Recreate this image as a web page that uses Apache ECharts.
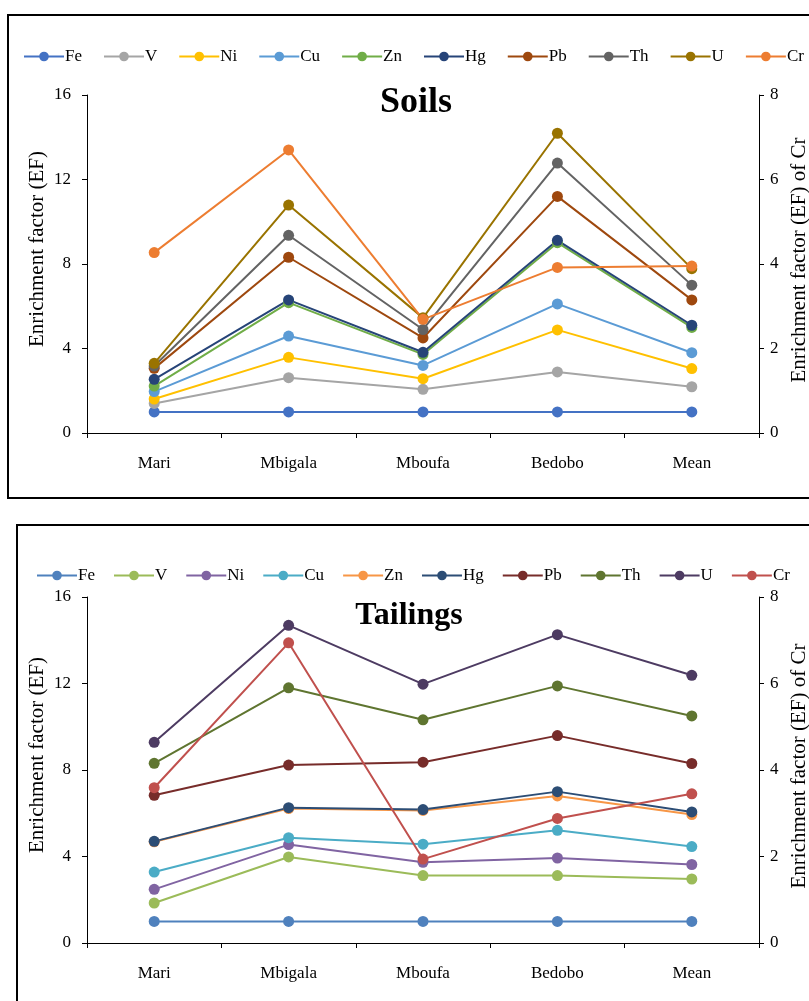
<!DOCTYPE html>
<html>
<head>
<meta charset="utf-8">
<script src="https://cdn.jsdelivr.net/npm/echarts@6/dist/echarts.min.js"></script>
<style>
  html, body { margin: 0; padding: 0; background: #fff; }
  #main { width: 809px; height: 1001px; }
</style>
</head>
<body>
<div id="main"></div>
<script>
// categories
var sites = ['Mari', 'Mbigala', 'Mboufa', 'Bedobo', 'Mean'];
var elements = ['Fe', 'V', 'Ni', 'Cu', 'Zn', 'Hg', 'Pb', 'Th', 'U', 'Cr'];

// Soils EF (Cr on right axis)
var soilFe = [1, 1, 1, 1, 1];
var soilV  = [1.40, 2.62, 2.07, 2.89, 2.19];
var soilNi = [1.61, 3.58, 2.57, 4.88, 3.05];
var soilCu = [1.96, 4.59, 3.20, 6.11, 3.80];
var soilZn = [2.22, 6.17, 3.72, 9.01, 5.00];
var soilHg = [2.54, 6.30, 3.82, 9.12, 5.10];
var soilPb = [3.06, 8.32, 4.50, 11.20, 6.30];
var soilTh = [3.17, 9.36, 4.90, 12.78, 7.00];
var soilU  = [3.30, 10.79, 5.45, 14.19, 7.78];
var soilCr = [4.27, 6.70, 2.69, 3.92, 3.95];

// Tailings EF (Cr on right axis)
var tailFe = [1, 1, 1, 1, 1];
var tailV  = [1.85, 3.98, 3.12, 3.12, 2.96];
var tailNi = [2.48, 4.55, 3.73, 3.93, 3.63];
var tailCu = [3.28, 4.87, 4.57, 5.21, 4.46];
var tailZn = [4.68, 6.22, 6.13, 6.80, 5.94];
var tailHg = [4.70, 6.26, 6.17, 7.00, 6.06];
var tailPb = [6.83, 8.23, 8.36, 9.59, 8.30];
var tailTh = [8.31, 11.80, 10.32, 11.89, 10.50];
var tailU  = [9.28, 14.69, 11.97, 14.26, 12.38];
var tailCr = [3.59, 6.94, 1.94, 2.88, 3.45];

// axis ticks
var leftMax = 16, leftStep = 4;
var rightMax = 8, rightStep = 2;

var soilData = [soilFe, soilV, soilNi, soilCu, soilZn, soilHg, soilPb, soilTh, soilU, soilCr];
var tailData = [tailFe, tailV, tailNi, tailCu, tailZn, tailHg, tailPb, tailTh, tailU, tailCr];

var soilColors = ['#4472C4', '#A5A5A5', '#FFC000', '#5B9BD5', '#70AD47', '#264478', '#9E480E', '#636363', '#997300', '#ED7D31'];
var tailColors = ['#4F81BD', '#9BBB59', '#8064A2', '#4BACC6', '#F79646', '#2C4D75', '#772C2A', '#5F7530', '#4D3B62', '#C0504D'];

var FONT = '"Liberation Serif", "Times New Roman", serif';

var chart = echarts.init(document.getElementById('main'));

function xAxisCfg(gridIndex) {
  return {
    type: 'category',
    gridIndex: gridIndex,
    data: sites,
    boundaryGap: true,
    axisLine: { lineStyle: { color: '#000', width: 1 } },
    axisTick: { show: true, inside: false, length: 5, lineStyle: { color: '#000' } },
    axisLabel: { color: '#000', fontFamily: FONT, fontSize: 17, margin: 22 },
    splitLine: { show: false }
  };
}

function yAxisCfg(gridIndex, right) {
  return {
    type: 'value',
    gridIndex: gridIndex,
    position: right ? 'right' : 'left',
    min: 0,
    max: right ? rightMax : leftMax,
    interval: right ? rightStep : leftStep,
    name: right ? 'Enrichment factor (EF) of Cr' : 'Enrichment factor (EF)',
    nameLocation: 'middle',
    nameRotate: 90,
    nameGap: right ? 30 : 39,
    nameMoveOverlap: right ? true : false,
    // left names sit a little above the middle of the axis
    nameTextStyle: { color: '#000', fontFamily: FONT, fontSize: 21,
      padding: right ? [0, 0, 0, 8] : [0, 0, 0, 30] },
    axisLine: { show: true, lineStyle: { color: '#000', width: 1 } },
    axisTick: { show: true, inside: false, length: 5, lineStyle: { color: '#000' } },
    axisLabel: { color: '#000', fontFamily: FONT, fontSize: 17, margin: right ? 11 : 16 },
    splitLine: { show: false }
  };
}

function buildSeries(data, colors, gridIdx, suffix) {
  var out = [];
  for (var i = 0; i < elements.length; i++) {
    var isCr = elements[i] === 'Cr';
    out.push({
      name: elements[i] + suffix,
      type: 'line',
      xAxisIndex: gridIdx,
      yAxisIndex: gridIdx * 2 + (isCr ? 1 : 0),
      data: data[i],
      symbol: 'circle',
      symbolSize: 11,
      color: colors[i],
      lineStyle: { width: 2, color: colors[i] },
      itemStyle: { color: colors[i] },
      emphasis: { disabled: true },
      animation: false
    });
  }
  return out;
}

function legendCfg(names, left, top, gap) {
  return {
    data: names,
    left: left,
    top: top,
    width: 1200,
    itemWidth: 40,
    itemHeight: 12,
    itemGap: gap,
    formatter: function (n) { return n.trim(); },
    textStyle: { color: '#000', fontFamily: FONT, fontSize: 17, padding: [0, 0, 0, -4] },
    inactiveColor: '#ccc'
  };
}

// tailings series get a trailing space so each panel has its own legend entries
var soilSeries = buildSeries(soilData, soilColors, 0, '');
var tailSeries = buildSeries(tailData, tailColors, 1, ' ');

var option = {
  backgroundColor: '#fff',
  animation: false,
  title: [
    { text: 'Soils', left: 411, top: 80, textAlign: 'center',
      textStyle: { fontFamily: FONT, fontSize: 36, fontWeight: 'bold', color: '#000' } },
    { text: 'Tailings', left: 404, top: 595, textAlign: 'center',
      textStyle: { fontFamily: FONT, fontSize: 32, fontWeight: 'bold', color: '#000' } }
  ],
  graphic: [
    { type: 'rect', shape: { x: 8, y: 15, width: 820, height: 483 },
      style: { fill: 'none', stroke: '#000', lineWidth: 2 }, z: 0 },
    { type: 'rect', shape: { x: 17, y: 525, width: 820, height: 500 },
      style: { fill: 'none', stroke: '#000', lineWidth: 2 }, z: 0 }
  ],
  legend: [
    legendCfg(elements.slice(), 18, 43, 21),
    legendCfg(elements.map(function (e) { return e + ' '; }), 31, 562, 18)
  ],
  grid: [
    { left: 87, top: 95, width: 672, height: 338, outerBoundsMode: 'none', containLabel: false },
    { left: 87, top: 597, width: 672, height: 346, outerBoundsMode: 'none', containLabel: false }
  ],
  xAxis: [xAxisCfg(0), xAxisCfg(1)],
  yAxis: [yAxisCfg(0, false), yAxisCfg(0, true), yAxisCfg(1, false), yAxisCfg(1, true)],
  series: soilSeries.concat(tailSeries)
};

chart.setOption(option);
</script>
</body>
</html>
